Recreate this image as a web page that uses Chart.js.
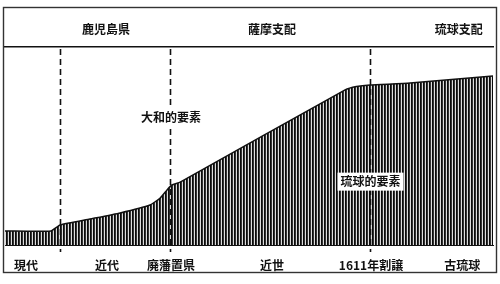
<!DOCTYPE html>
<html>
<head>
<meta charset="utf-8">
<script src="https://cdn.jsdelivr.net/npm/chart.js@4/dist/chart.umd.min.js"></script>
<style>
  html, body { margin: 0; padding: 0; background: #fff; }
  #wrap { width: 500px; height: 284px; position: relative; }
</style>
</head>
<body>
<div id="wrap"><canvas id="chart"></canvas></div>
<script>
// time runs right (古琉球) to left (現代), 0..100 across the plot
const timeX = [0, 9.4, 11.3, 17.4, 23.6, 29.7, 31.8, 33.2, 34.2, 35.9, 69.7, 72.0, 74.8, 83.0, 100]
// share of 琉球的要素 (%), the rest up to 100 is 大和的要素
const ryukyuShare = [7.1, 7.1, 10.1, 13.1, 16.2, 20.2, 23.7, 27.8, 30.3, 31.8, 78.3, 80.0, 80.8, 81.8, 85.4]

const eraTicks = [4.3, 20.9, 34.0, 54.7, 75.0, 93.7]
const eraLabels = ['現代', '近代', '廃藩置県', '近世', '1611年割譲', '古琉球']
const ruleTicks = [20.7, 54.7, 93.0]
const ruleLabels = ['鹿児島県', '薩摩支配', '琉球支配']
const breaks = [11.3, 33.8, 74.8]
const notes = ['大和的要素', '琉球的要素']
const noteX = [34.0, 74.9]
const noteY = [64.6, 32]

const FONT = "'Noto Sans CJK JP', 'Noto Sans', sans-serif"

// vertical hatching like the print
const pat = document.createElement('canvas')
pat.width = 3; pat.height = 1
const pctx = pat.getContext('2d')
pctx.fillStyle = '#0a0a0a'; pctx.fillRect(0, 0, 1, 1)
pctx.fillStyle = '#333'; pctx.fillRect(1, 0, 1, 1)
pctx.fillStyle = '#ddd'; pctx.fillRect(2, 0, 1, 1)
const hatch = document.getElementById('chart').getContext('2d').createPattern(pat, 'repeat')

const extras = {
  id: 'extras',
  beforeDraw(chart) {
    const ctx = chart.ctx
    ctx.save()
    ctx.fillStyle = '#fff'
    ctx.fillRect(0, 0, chart.width, chart.height)
    ctx.restore()
  },
  afterDatasetsDraw(chart) {
    const { ctx, chartArea } = chart
    const xs = chart.scales.x
    const ys = chart.scales.y
    ctx.save()
    // dashed period breaks
    ctx.strokeStyle = '#111'
    ctx.lineWidth = 1.6
    ctx.setLineDash([6, 4])
    breaks.forEach(b => {
      const px = Math.round(xs.getPixelForValue(b)) + 0.5
      ctx.beginPath()
      ctx.moveTo(px, chartArea.top + 2)
      ctx.lineTo(px, chartArea.bottom + 7)
      ctx.stroke()
    })
    ctx.setLineDash([])
    // notes
    ctx.font = 'bold 12px ' + FONT
    ctx.textAlign = 'center'
    ctx.textBaseline = 'middle'
    notes.forEach((t, i) => {
      const px = xs.getPixelForValue(noteX[i])
      const py = ys.getPixelForValue(noteY[i])
      const w = ctx.measureText(t).width
      ctx.fillStyle = '#fff'
      ctx.fillRect(px - w / 2 - 3, py - 9, w + 6, 18)
      ctx.fillStyle = '#111'
      ctx.fillText(t, px, py)
    })
    // frame
    ctx.strokeStyle = '#333'
    ctx.lineWidth = 1.4
    ctx.strokeRect(3.5, 7.5, 493, 265)
    ctx.restore()
  }
}

new Chart(document.getElementById('chart'), {
  type: 'line',
  data: {
    datasets: [{
      data: timeX.map((x, i) => ({ x, y: ryukyuShare[i] })),
      borderColor: '#111',
      borderWidth: 1.5,
      backgroundColor: hatch,
      fill: 'origin',
      pointRadius: 0,
      tension: 0.15
    }]
  },
  plugins: [extras],
  options: {
    responsive: true,
    maintainAspectRatio: false,
    animation: false,
    layout: { padding: { left: 5, right: 7, top: 0, bottom: 0 } },
    plugins: { legend: { display: false }, tooltip: { enabled: false } },
    scales: {
      x: {
        type: 'linear',
        position: 'bottom',
        min: 0, max: 100,
        grid: { display: false },
        border: { display: true, color: '#111', width: 1 },
        afterBuildTicks: s => { s.ticks = eraTicks.map(v => ({ value: v })) },
        afterFit: s => { s.height = 39 },
        ticks: {
          autoSkip: false, maxRotation: 0, padding: 5,
          color: '#111', font: { family: FONT, size: 12, weight: 'bold' },
          callback: (v, i) => eraLabels[i]
        }
      },
      x2: {
        type: 'linear',
        position: 'top',
        min: 0, max: 100,
        grid: { display: false },
        border: { display: true, color: '#111', width: 1.6 },
        afterBuildTicks: s => { s.ticks = ruleTicks.map(v => ({ value: v })) },
        afterFit: s => { s.height = 47 },
        ticks: {
          autoSkip: false, maxRotation: 0, padding: 2,
          color: '#111', font: { family: FONT, size: 12, weight: 'bold' },
          callback: (v, i) => ruleLabels[i]
        }
      },
      y: { display: false, min: 0, max: 100 }
    }
  }
})
</script>
</body>
</html>
